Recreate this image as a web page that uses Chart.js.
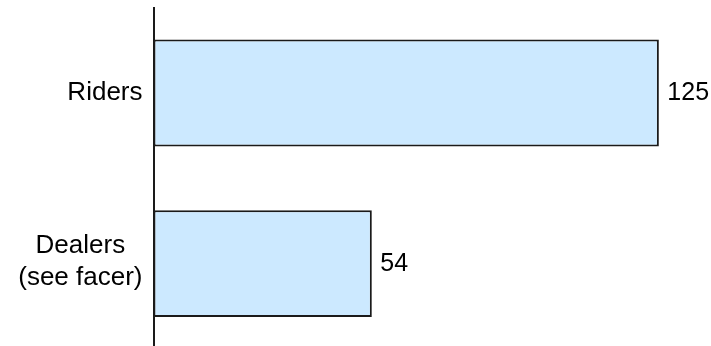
<!DOCTYPE html>
<html>
<head>
<meta charset="utf-8">
<script src="https://cdn.jsdelivr.net/npm/chart.js@4.4.1/dist/chart.umd.min.js"></script>
<style>
  html, body { margin: 0; padding: 0; background: #ffffff; overflow: hidden; }
  #wrap { width: 711px; height: 346px; overflow: hidden; }
  canvas { display: block; }
</style>
</head>
<body>
<div id="wrap"><canvas id="c" width="711" height="349"></canvas></div>
<script>
// ---- data ----
const categories = [["Riders"], ["Dealers", "(see facer)"]];
const values = [125, 54];
const valueLabels = ["125", "54"];

const CAT_FONT = '26px "Liberation Sans", Arial, sans-serif';
const VAL_FONT = '25px "Liberation Sans", Arial, sans-serif';
const LINE_H = 32;

const labelPlugin = {
  id: 'labels',
  afterDatasetsDraw(chart) {
    const ctx = chart.ctx;
    const yScale = chart.scales.y;
    const meta = chart.getDatasetMeta(0);
    ctx.save();
    ctx.fillStyle = '#000000';
    ctx.textBaseline = 'middle';
    // category labels: block right-aligned, lines centred inside block
    ctx.font = CAT_FONT;
    categories.forEach((lines, i) => {
      const yc = yScale.getPixelForTick(i) - (lines.length > 1 ? 1.5 : 0);
      const widest = Math.max(...lines.map(l => ctx.measureText(l).width));
      const cx = chart.chartArea.left - 11 - widest / 2;
      ctx.textAlign = 'center';
      const y0 = yc - (lines.length - 1) * LINE_H / 2;
      lines.forEach((l, k) => ctx.fillText(l, cx, y0 + k * LINE_H));
    });
    // value labels at bar ends
    ctx.font = VAL_FONT;
    ctx.textAlign = 'left';
    meta.data.forEach((bar, i) => {
      ctx.fillText(valueLabels[i], bar.x + 8.5, bar.y);
    });
    ctx.restore();
  }
};

new Chart(document.getElementById('c'), {
  type: 'bar',
  data: {
    labels: categories,
    datasets: [{
      data: values,
      backgroundColor: '#CCE9FF',
      borderColor: '#1a1a1a',
      borderWidth: 2,
      borderSkipped: false,
      barPercentage: 0.626,
      categoryPercentage: 1.0
    }]
  },
  options: {
    indexAxis: 'y',
    responsive: false,
    animation: false,
    events: [],
    layout: { padding: { top: 7.6, right: 11.7, bottom: 0, left: 0 } },
    plugins: { legend: { display: false }, tooltip: { enabled: false } },
    scales: {
      x: {
        display: false,
        min: 0,
        max: 135
      },
      y: {
        grid: { display: false, drawTicks: false },
        ticks: { display: false },
        border: { display: true, color: '#1a1a1a', width: 2 },
        afterFit: s => { s.width = 153.5; }
      }
    }
  },
  plugins: [labelPlugin]
});
</script>
</body>
</html>
